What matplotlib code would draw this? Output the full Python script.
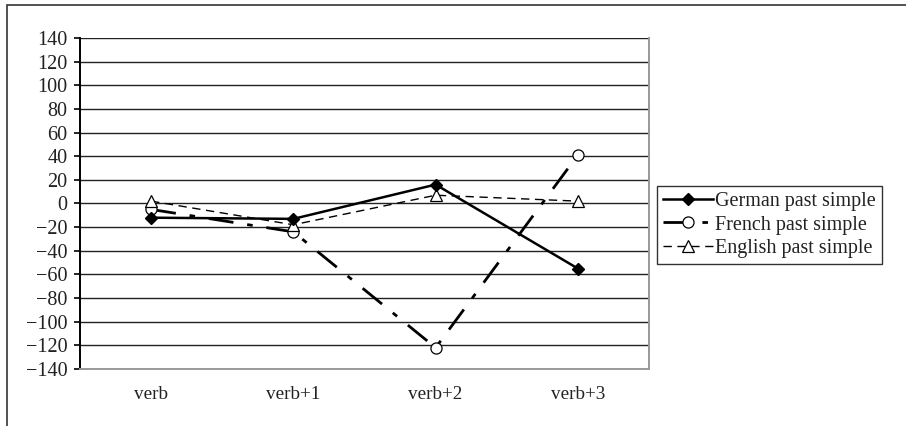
import numpy as np
import matplotlib
matplotlib.use('Agg', force=True)
import matplotlib.pyplot as plt
from matplotlib.patches import Rectangle

plt.rcParams['font.family'] = ['Liberation Serif', 'DejaVu Serif']
plt.rcParams['text.color'] = '#222222'

categories = ['verb', 'verb+1', 'verb+2', 'verb+3']
german = [-12, -13, 16, -55]
french = [-5, -24, -122, 41]
english = [2, -18, 7, 2]
yticks = list(range(-140, 141, 20))

fig = plt.figure(figsize=(9.06, 4.26), dpi=100)
# outer frame
fig.patches.append(Rectangle((7 / 906, -0.1), 1.2, (421 / 426) + 0.1,
                             transform=fig.transFigure, fill=False,
                             edgecolor='#333333', linewidth=1.2))

ax = fig.add_axes([80 / 906, 1 - 369 / 426, 569 / 906, 331 / 426])
x = np.arange(len(categories)) + 0.5

for yv in yticks[1:]:
    ax.axhline(yv, color='#222222', linewidth=1.0, zorder=1)

ax.plot(x, german, color='black', linewidth=1.8, marker='D', markersize=6,
        markerfacecolor='black', label='German past simple', zorder=4)
ax.plot(x, french, color='black', linewidth=2.0, dashes=(9, 5, 2, 5),
        marker='o', markersize=8, markerfacecolor='white',
        markeredgecolor='black', markeredgewidth=0.9,
        label='French past simple', zorder=3)
ax.plot(x, english, color='black', linewidth=1.0, dashes=(6, 4),
        marker='^', markersize=9, markerfacecolor='white',
        markeredgecolor='black', markeredgewidth=0.9,
        label='English past simple', zorder=3)

ax.set_xlim(0, 4)
ax.set_ylim(-140, 140)
ax.set_yticks(yticks)
ax.set_yticklabels([str(v).replace('-', '\u2212') for v in yticks])
ax.set_xticks(x)
ax.set_xticklabels(categories)
ax.tick_params(axis='x', length=0, pad=12, labelsize=13.8, labelcolor='#222222')
ax.tick_params(axis='y', length=4, width=1.2, direction='out', labelsize=14.5,
               pad=5, labelcolor='#222222')

ax.spines['left'].set_color('black')
ax.spines['left'].set_linewidth(1.4)
ax.spines['bottom'].set_color('#999999')
ax.spines['bottom'].set_linewidth(1.4)
ax.spines['right'].set_color('#999999')
ax.spines['right'].set_linewidth(1.4)
ax.spines['top'].set_visible(False)

leg = ax.legend(loc='center left', bbox_to_anchor=(657 / 906, 1 - 225 / 426),
                bbox_transform=fig.transFigure, frameon=True, fancybox=False,
                edgecolor='black', fontsize=14.5, handlelength=2.5,
                handletextpad=0.1, borderpad=0.3, labelspacing=0.2,
                borderaxespad=0)
leg.get_frame().set_linewidth(1.0)

plt.savefig('out.png', dpi=100)
